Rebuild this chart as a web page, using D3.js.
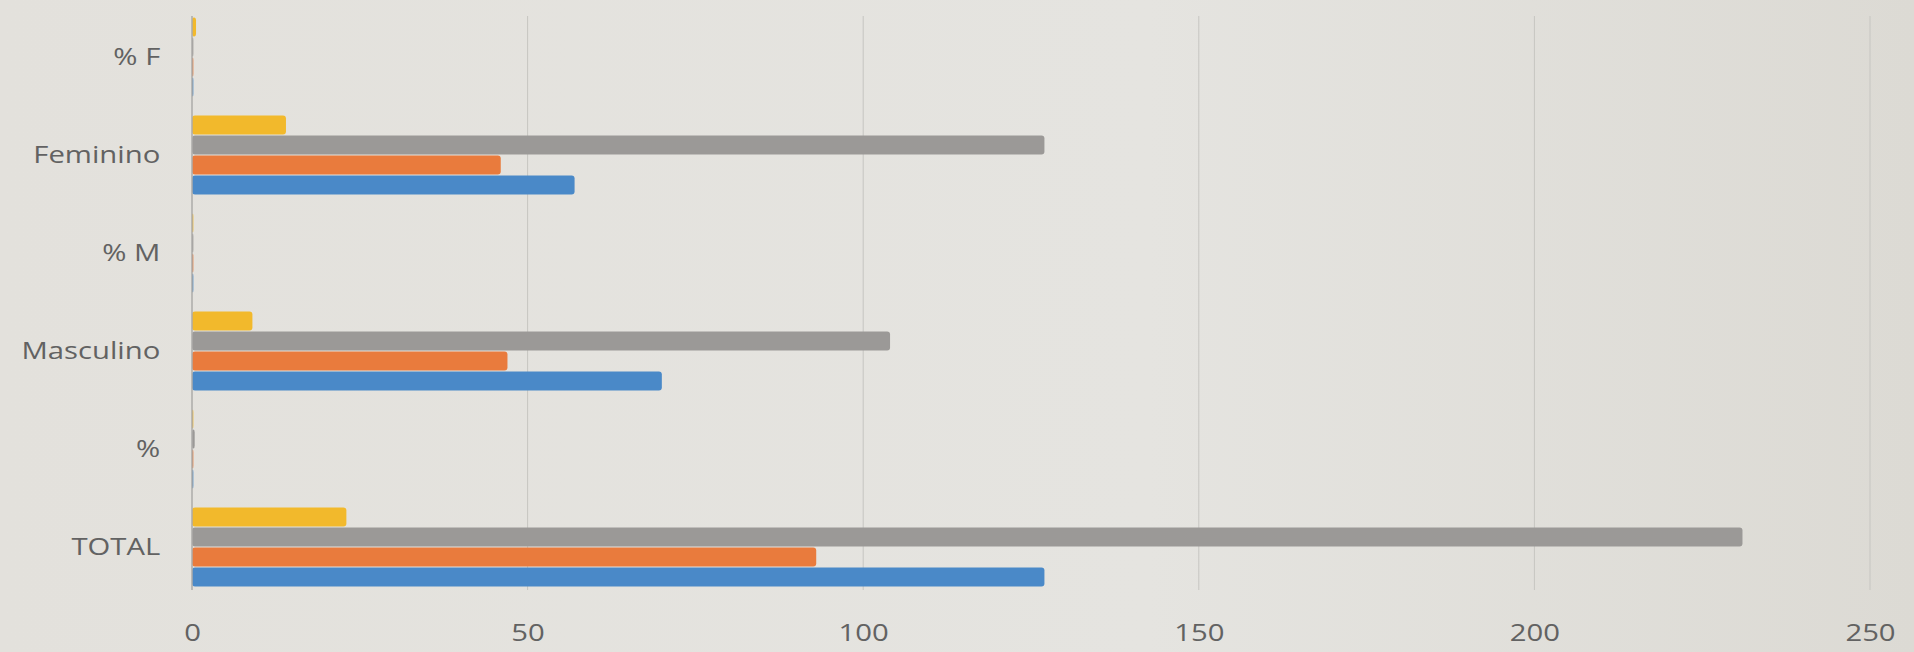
<!DOCTYPE html>
<html>
<head>
<meta charset="utf-8">
<script src="https://cdn.jsdelivr.net/npm/d3@7"></script>
<style>
  html, body { margin: 0; padding: 0; background: #e2e0db; }
  svg { display: block; }
  .tick text { font-family: "Open Sans", sans-serif; fill: #626262; }
</style>
</head>
<body>
<svg id="chart"></svg>
<script>
// categories top to bottom, as in the picture
const categories = ['% F', 'Feminino', '% M', 'Masculino', '%', 'TOTAL']

// series (bar order inside a group, top to bottom: s4, s3, s2, s1)
const s1 = [0.2, 57, 0.2, 70, 0.2, 127]   // blue
const s2 = [0.2, 46, 0.2, 47, 0.2, 93]    // orange
const s3 = [0.2, 127, 0.2, 104, 0.4, 231] // gray
const s4 = [0.6, 14, 0.2, 9, 0.2, 23]     // yellow

const xTicks = [0, 50, 100, 150, 200, 250]

const series = [
  {key: 's4', values: s4, color: '#f2b92c'},
  {key: 's3', values: s3, color: '#9b9997'},
  {key: 's2', values: s2, color: '#e97b3d'},
  {key: 's1', values: s1, color: '#4a89c8'}
]

const width = 1914, height = 652
const svg = d3.select('#chart')
  .attr('width', width)
  .attr('height', height)

const defs = svg.append('defs')
const grad = defs.append('linearGradient').attr('id', 'bg')
grad.append('stop').attr('offset', '0%').attr('stop-color', '#e3e1dc')
grad.append('stop').attr('offset', '60%').attr('stop-color', '#e5e4e0')
grad.append('stop').attr('offset', '100%').attr('stop-color', '#dcdad4')
svg.append('rect')
  .attr('width', width).attr('height', height)
  .attr('fill', 'url(#bg)')

const xScale = d3.scaleLinear()
  .domain([0, 250])
  .range([192, 1870])

const yScale = d3.scaleBand()
  .domain(categories)
  .range([8, 596])
  .paddingInner(0.184)
  .paddingOuter(0.092)

const inner = d3.scaleBand()
  .domain(series.map(s => s.key))
  .range([0, yScale.bandwidth()])

// vertical gridlines
svg.append('g')
  .selectAll('line')
  .data(xTicks.filter(t => t > 0))
  .enter().append('line')
    .attr('x1', d => xScale(d))
    .attr('x2', d => xScale(d))
    .attr('y1', 16)
    .attr('y2', 590)
    .attr('stroke', '#c6c5c1')
    .attr('stroke-width', 1)

// bars
series.forEach(s => {
  svg.append('g')
    .selectAll('rect')
    .data(categories.map((c, i) => ({cat: c, v: s.values[i]})))
    .enter().append('rect')
      .attr('x', xScale(0))
      .attr('y', d => yScale(d.cat) + inner(s.key) + 0.5)
      .attr('width', d => xScale(d.v) - xScale(0))
      .attr('height', inner.bandwidth() - 1)
      .attr('rx', 3)
      .attr('fill', s.color)
})

// zero axis line
svg.append('line')
  .attr('x1', xScale(0)).attr('x2', xScale(0))
  .attr('y1', 16).attr('y2', 590)
  .attr('stroke', '#acaba8')
  .attr('stroke-width', 1.5)

const xAxis = d3.axisBottom(xScale)
  .tickValues(xTicks)
  .tickSize(0)
  .tickPadding(28)

svg.append('g')
  .attr('class', 'x axis')
  .attr('transform', `translate(0, 596)`)
  .call(xAxis)
  .call(g => g.select('.domain').remove())
  .selectAll('text')
    .attr('font-size', 24)
    .attr('transform', 'scale(1.22,1)')

const yAxis = d3.axisLeft(yScale)
  .tickSize(0)
  .tickPadding(26)

svg.append('g')
  .attr('class', 'y axis')
  .attr('transform', `translate(${xScale(0)}, 0)`)
  .call(yAxis)
  .call(g => g.select('.domain').remove())
  .selectAll('text')
    .attr('font-size', 24)
    .attr('transform', 'scale(1.22,1)')
</script>
</body>
</html>
